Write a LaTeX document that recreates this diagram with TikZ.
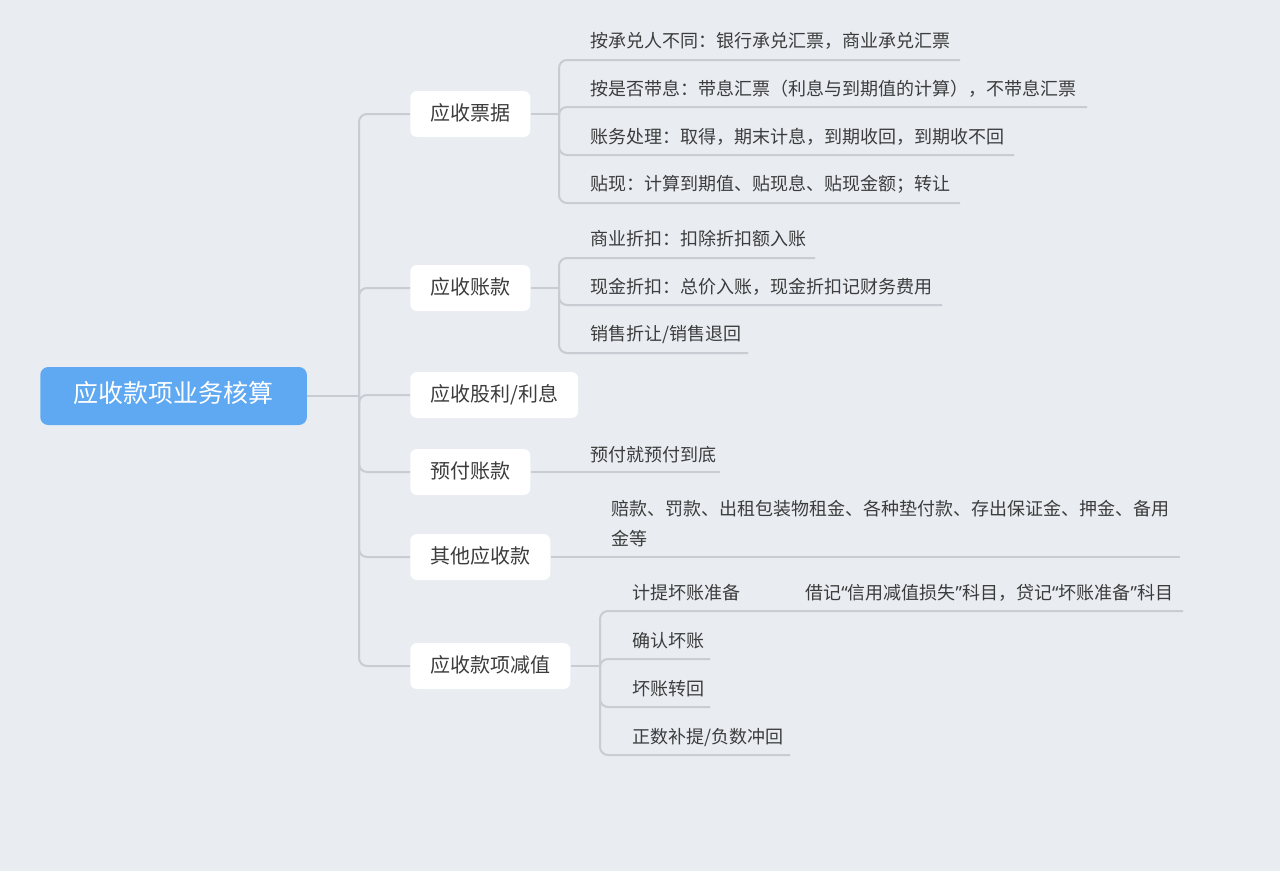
\documentclass[tikz,border=0pt]{standalone}
\usepackage{fontspec}
\setmainfont{Noto Sans CJK SC}
\newfontfamily\latinq{Noto Sans}
\begin{document}
\begin{tikzpicture}[x=0.75pt,y=-0.75pt,
  rootbox/.style={fill=rootcol,rounded corners=6pt,text=white,font=\fontsize{18.75}{22}\selectfont,
    minimum height=43.5pt,inner xsep=25pt,text height=0.95em,text depth=0.05em,anchor=west},
  topicbox/.style={fill=white,rounded corners=5pt,text=txtcol,font=\fontsize{15}{18}\selectfont,
    minimum height=34.5pt,inner xsep=15pt,text height=0.95em,text depth=0.05em,anchor=west},
  leaf/.style={text=txtcol,font=\fontsize{13.5}{22.5}\selectfont,inner sep=0pt,
    text height=0.88em,text depth=0.12em,anchor=west,align=left,yshift=-1.5pt},
  conn/.style={draw=linecol,line width=1.5pt,rounded corners=6pt},
  uline/.style={draw=linecol,line width=1.5pt}
]
\definecolor{bgcol}{HTML}{E9EDF2}
\definecolor{rootcol}{HTML}{5FA8F2}
\definecolor{txtcol}{HTML}{3C3C3C}
\definecolor{linecol}{HTML}{C8CDD3}
\fill[bgcol] (0,0) rectangle (1280,871);
\useasboundingbox (0,0) rectangle (1280,871);

% root and main topics
\node[rootbox] (root) at (40,396) {应收款项业务核算};
\node[topicbox] (t1) at (410,114) {应收票据};
\node[topicbox] (t2) at (410,288) {应收账款};
\node[topicbox] (t3) at (410,395) {应收股利/利息};
\node[topicbox] (t4) at (410,472) {预付账款};
\node[topicbox] (t5) at (410,557) {其他应收款};
\node[topicbox] (t6) at (410,666) {应收款项减值};

\coordinate (j0) at (359,396);
\draw[conn] (root.east) -- (j0);
\foreach \t in {t1,t2,t3,t4,t5,t6}{
  \draw[conn] (j0) |- (\t.west);
}

% leaves of t1
\node[leaf] (a1) at (590,40) {按承兑人不同：银行承兑汇票，商业承兑汇票};
\node[leaf] (a2) at (590,88) {按是否带息：带息汇票（利息与到期值的计算），不带息汇票};
\node[leaf] (a3) at (590,136) {账务处理：取得，期末计息，到期收回，到期收不回};
\node[leaf] (a4) at (590,183) {贴现：计算到期值、贴现息、贴现金额；转让};
\coordinate (j1) at (559,114);
\coordinate (a1s) at (580,60);  \coordinate (a1e) at (960,60);
\coordinate (a2s) at (580,107); \coordinate (a2e) at (1087,107);
\coordinate (a3s) at (580,155); \coordinate (a3e) at (1014,155);
\coordinate (a4s) at (580,203); \coordinate (a4e) at (960,203);
\draw[conn] (t1.east) -- (j1);
\foreach \a in {a1,a2,a3,a4}{
  \draw[conn] (j1) |- (\a s) -- (\a e);
}

% leaves of t2
\node[leaf] (b1) at (590,238) {商业折扣：扣除折扣额入账};
\node[leaf] (b2) at (590,286) {现金折扣：总价入账，现金折扣记财务费用};
\node[leaf] (b3) at (590,333) {销售折让/销售退回};
\coordinate (j2) at (559,288);
\coordinate (b1s) at (580,258); \coordinate (b1e) at (815,258);
\coordinate (b2s) at (580,305); \coordinate (b2e) at (942,305);
\coordinate (b3s) at (580,353); \coordinate (b3e) at (748,353);
\draw[conn] (t2.east) -- (j2);
\foreach \b in {b1,b2,b3}{
  \draw[conn] (j2) |- (\b s) -- (\b e);
}

% leaf of t4
\node[leaf] (c1) at (590,454) {预付就预付到底};
\coordinate (c1e) at (720,472);
\draw[uline] (t4.east) -- (c1e);

% leaf of t5
\node[leaf] (d1) at (611,538) {赔款、罚款、出租包装物租金、各种垫付款、存出保证金、押金、备用\\金等};
\coordinate (d1e) at (1180,557);
\draw[uline] (t5.east) -- (d1e);

% leaves of t6
\node[leaf] (e1) at (632,592) {计提坏账准备};
\node[leaf] (e1a) at (805,592) {借记{\latinq “}信用减值损失{\latinq ”}科目，贷记{\latinq “}坏账准备{\latinq ”}科目};
\node[leaf] (e2) at (632,640) {确认坏账};
\node[leaf] (e3) at (632,688) {坏账转回};
\node[leaf] (e4) at (632,736) {正数补提/负数冲回};
\coordinate (j6) at (600,666);
\coordinate (e1s) at (620,611); \coordinate (e1e) at (1183,611);
\coordinate (e2s) at (620,659); \coordinate (e2e) at (710,659);
\coordinate (e3s) at (620,707); \coordinate (e3e) at (710,707);
\coordinate (e4s) at (620,755); \coordinate (e4e) at (790,755);
\draw[conn] (t6.east) -- (j6);
\foreach \e in {e1,e2,e3,e4}{
  \draw[conn] (j6) |- (\e s) -- (\e e);
}
\end{tikzpicture}
\end{document}
